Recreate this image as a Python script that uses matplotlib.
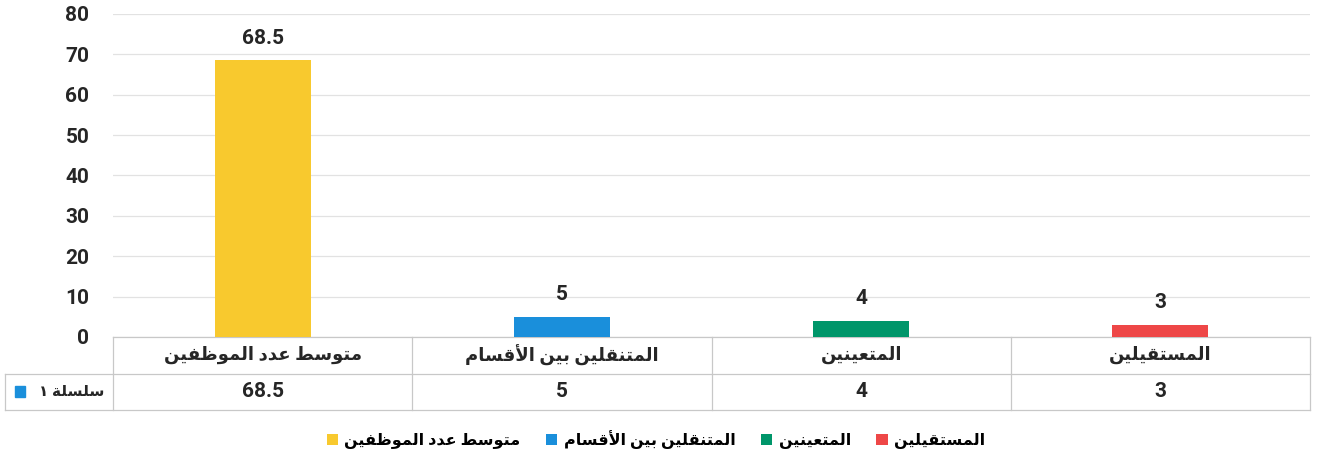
import matplotlib
matplotlib.use("Agg")
import matplotlib.pyplot as plt
from matplotlib.patches import Patch
import matplotlib.transforms as mtransforms

# ============================================================
# DATA
# ============================================================

categories = ["متوسط عدد الموظفين", "المتنقلين بين الأقسام", "المتعينين", "المستقيلين"]
values = [68.5, 5, 4, 3]
value_labels = ["68.5", "5", "4", "3"]
series_name = "سلسلة ١"
colors = ["#F8C92E", "#1A8FDB", "#00966A", "#EE4747"]
y_ticks = [0, 10, 20, 30, 40, 50, 60, 70, 80]

# ============================================================
# ARABIC SHAPING (matplotlib has no text shaping)
# ============================================================

# char -> (isolated, final, initial, medial)
FORMS = {
    "ا": ("\uFE8D", "\uFE8E", None, None),
    "أ": ("\uFE83", "\uFE84", None, None),
    "ب": ("\uFE8F", "\uFE90", "\uFE91", "\uFE92"),
    "ة": ("\uFE93", "\uFE94", None, None),
    "ت": ("\uFE95", "\uFE96", "\uFE97", "\uFE98"),
    "د": ("\uFEA9", "\uFEAA", None, None),
    "س": ("\uFEB1", "\uFEB2", "\uFEB3", "\uFEB4"),
    "ط": ("\uFEC1", "\uFEC2", "\uFEC3", "\uFEC4"),
    "ظ": ("\uFEC5", "\uFEC6", "\uFEC7", "\uFEC8"),
    "ع": ("\uFEC9", "\uFECA", "\uFECB", "\uFECC"),
    "ف": ("\uFED1", "\uFED2", "\uFED3", "\uFED4"),
    "ق": ("\uFED5", "\uFED6", "\uFED7", "\uFED8"),
    "ل": ("\uFEDD", "\uFEDE", "\uFEDF", "\uFEE0"),
    "م": ("\uFEE1", "\uFEE2", "\uFEE3", "\uFEE4"),
    "ن": ("\uFEE5", "\uFEE6", "\uFEE7", "\uFEE8"),
    "و": ("\uFEED", "\uFEEE", None, None),
    "ي": ("\uFEF1", "\uFEF2", "\uFEF3", "\uFEF4"),
}
LAM_ALEF = {"ا": ("\uFEFB", "\uFEFC"), "أ": ("\uFEF7", "\uFEF8")}


def joins_left(c):
    return c in FORMS and FORMS[c][2] is not None


def shape(s):
    out = []
    i = 0
    n = len(s)
    while i < n:
        c = s[i]
        prev = s[i - 1] if i > 0 else None
        p = prev is not None and joins_left(prev)
        if c == "ل" and i + 1 < n and s[i + 1] in LAM_ALEF:
            out.append(LAM_ALEF[s[i + 1]][1 if p else 0])
            i += 2
            continue
        if c not in FORMS:
            out.append(c)
            i += 1
            continue
        iso, fin, ini, med = FORMS[c]
        nx = s[i + 1] if i + 1 < n else None
        q = ini is not None and nx is not None and nx in FORMS
        if p and q:
            out.append(med)
        elif p:
            out.append(fin)
        elif q:
            out.append(ini)
        else:
            out.append(iso)
        i += 1
    return "".join(reversed(out))


# ============================================================
# PLOT
# ============================================================

plt.rcParams["font.family"] = ["Roboto", "DejaVu Sans"]
plt.rcParams["font.weight"] = "bold"

W, H = 1328, 459
fig = plt.figure(figsize=(W / 100, H / 100), dpi=100)
ax = fig.add_axes([113 / W, (H - 337) / H, (1310 - 113) / W, (337 - 14) / H])

x = list(range(len(categories)))
ax.bar(x, values, width=0.32, color=colors, zorder=3)
for xi, v, lab in zip(x, values, value_labels):
    ax.annotate(lab, (xi, v), xytext=(0, 9), textcoords="offset points",
                ha="center", va="bottom", fontsize=15, fontweight="bold", color="#262626")

ax.set_xlim(-0.5, len(categories) - 0.5)
ax.set_ylim(0, 80)
ax.set_yticks(y_ticks)
ax.set_xticks([])
ax.tick_params(axis="y", length=0, pad=17, labelsize=15, labelcolor="#262626")
for lab in ax.get_yticklabels():
    lab.set_fontweight("bold")
ax.grid(axis="y", color="#e2e2e2", linewidth=0.9, zorder=0)
for sp in ax.spines.values():
    sp.set_visible(False)

# --- data table under the axis ---
row_h = 36.5 / (337 - 14)
lc = "#c8c8c8"
lw = 0.9
axw = 1310 - 113
label_left = -(113 - 5) / axw
tr = ax.transAxes
blend = mtransforms.blended_transform_factory(ax.transData, ax.transAxes)

for yy in [0, -row_h, -2 * row_h]:
    x0 = 0 if yy == 0 else label_left
    ax.plot([x0, 1], [yy, yy], transform=tr, color=lc, lw=lw, clip_on=False)
for k in range(len(categories) + 1):
    ax.plot([k - 0.5, k - 0.5], [0, -2 * row_h], transform=blend, color=lc, lw=lw, clip_on=False)
ax.plot([label_left, label_left], [-row_h, -2 * row_h], transform=tr, color=lc, lw=lw, clip_on=False)

for xi, cat, lab in zip(x, categories, value_labels):
    ax.text(xi, -0.5 * row_h, shape(cat), transform=blend, ha="center", va="center",
            fontsize=13, fontweight="bold", color="#262626")
    ax.text(xi, -1.5 * row_h, lab, transform=blend, ha="center", va="center",
            fontsize=15, fontweight="bold", color="#262626")

ax.text(-(113 - 104) / axw, -1.5 * row_h, shape(series_name), transform=tr, ha="right", va="center",
        fontsize=11, fontweight="bold", color="#262626")
ax.add_patch(plt.Rectangle((-(113 - 15) / axw, -1.5 * row_h - 0.016), 10 / axw, 0.033,
                           transform=tr, color=colors[1], clip_on=False))

# --- legend ---
handles = [Patch(facecolor=c) for c in colors]
labels = [shape(c) for c in categories]
fig.legend(handles, labels, loc="center", bbox_to_anchor=(656 / W, 1 - 440 / H),
           ncol=4, frameon=False, handlelength=0.7, handleheight=0.7,
           handletextpad=0.4, columnspacing=1.6, prop={"weight": "bold", "size": 11.5})

fig.savefig("out.png", dpi=100, facecolor="white")
